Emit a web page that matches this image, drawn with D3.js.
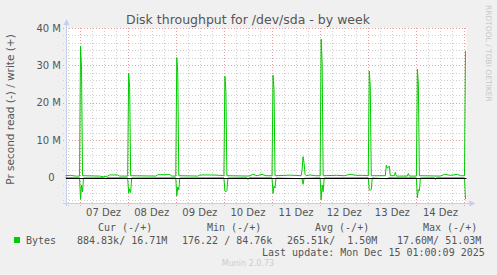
<!DOCTYPE html>
<html>
<head>
<meta charset="utf-8">
<script src="https://cdn.jsdelivr.net/npm/d3@7"></script>
<style>
body { margin: 0; background: #f0f0f0; }
svg { display: block; }
</style>
</head>
<body>
<svg id="chart"></svg>
<script>
// values in MB/s, times are UTC
const startTime = '12-06 17:00';
const endTime = '12-15 01:00';

const writePoints = [
  ['12-06 17:00', 0.5], ['12-06 19:30', 0.6], ['12-06 22:00', 0.4], ['12-07 00:00', 0.4],
  ['12-07 00:30', 35.2], ['12-07 01:00', 29.0], ['12-07 01:30', 0.5],
  ['12-07 10:00', 0.4], ['12-07 12:00', 0.2], ['12-07 14:00', 0.4], ['12-07 15:00', 0.7], ['12-07 19:00', 0.7], ['12-07 20:00', 0.4],
  ['12-08 00:00', 0.4], ['12-08 00:30', 27.9], ['12-08 01:00', 24.0], ['12-08 01:30', 0.5],
  ['12-08 14:00', 0.4], ['12-08 15:00', 0.75], ['12-08 21:00', 0.8], ['12-08 22:00', 0.4],
  ['12-09 00:00', 0.4], ['12-09 00:30', 32.1], ['12-09 01:00', 28.0], ['12-09 01:30', 0.5],
  ['12-09 11:00', 0.4], ['12-09 12:00', 0.7], ['12-09 18:00', 0.7], ['12-09 22:00', 0.6],
  ['12-10 00:00', 0.5], ['12-10 00:30', 27.1], ['12-10 01:00', 23.0], ['12-10 01:30', 0.5],
  ['12-10 12:30', 0.4], ['12-10 14:30', 0.85], ['12-10 16:30', 0.5], ['12-10 19:00', 0.85], ['12-10 21:00', 0.5],
  ['12-11 00:00', 0.5], ['12-11 00:30', 27.4], ['12-11 01:00', 23.5], ['12-11 01:30', 0.5],
  ['12-11 09:00', 0.65], ['12-11 14:30', 0.5], ['12-11 15:00', 2.0], ['12-11 15:30', 5.6], ['12-11 16:00', 3.8], ['12-11 16:30', 0.8],
  ['12-11 17:00', 0.5], ['12-11 19:00', 0.7], ['12-11 21:30', 0.5],
  ['12-12 00:00', 0.5], ['12-12 00:30', 37.0], ['12-12 01:00', 31.0], ['12-12 01:30', 0.5],
  ['12-12 08:00', 0.6], ['12-12 12:00', 0.5], ['12-12 15:00', 0.85], ['12-12 18:00', 0.6], ['12-12 21:00', 0.6],
  ['12-13 00:00', 0.5], ['12-13 00:30', 28.5], ['12-13 01:00', 24.5], ['12-13 01:30', 0.5],
  ['12-13 08:30', 0.5], ['12-13 09:00', 3.3], ['12-13 09:30', 2.5], ['12-13 10:30', 3.1], ['12-13 11:00', 0.5],
  ['12-13 13:00', 0.5], ['12-13 13:30', 1.4], ['12-13 14:00', 0.4], ['12-13 19:30', 0.4], ['12-13 20:00', 1.1], ['12-13 20:30', 0.4],
  ['12-14 00:00', 0.4], ['12-14 00:30', 29.0], ['12-14 01:00', 25.0], ['12-14 01:30', 0.5],
  ['12-14 12:00', 0.4], ['12-14 14:00', 0.85], ['12-14 17:00', 0.6], ['12-14 20:30', 0.85], ['12-14 22:00', 0.5],
  ['12-15 00:00', 0.5], ['12-15 00:30', 33.8]
];

const readPoints = [
  ['12-06 17:00', -0.05], ['12-07 00:00', -0.05],
  ['12-07 00:30', -5.8], ['12-07 01:00', -2.0], ['12-07 01:30', -3.8], ['12-07 02:00', -0.1],
  ['12-07 12:30', -0.05], ['12-07 13:00', -0.4], ['12-07 13:30', -0.05],
  ['12-08 00:00', -0.05], ['12-08 00:30', -4.1], ['12-08 01:00', -3.0], ['12-08 01:30', -4.0], ['12-08 02:00', -0.1],
  ['12-09 00:00', -0.05], ['12-09 00:30', -4.9], ['12-09 01:00', -2.5], ['12-09 01:30', -3.3], ['12-09 02:00', -0.1],
  ['12-10 00:00', -0.05], ['12-10 00:30', -3.6], ['12-10 01:00', -3.8], ['12-10 01:30', -3.5], ['12-10 02:00', -0.1],
  ['12-10 11:30', -0.05], ['12-10 12:00', -0.5], ['12-10 12:30', -0.05],
  ['12-11 00:00', -0.05], ['12-11 00:30', -4.2], ['12-11 01:00', -2.3], ['12-11 01:30', -2.8], ['12-11 02:00', -0.1],
  ['12-11 15:00', -0.3], ['12-11 15:30', -1.8], ['12-11 16:00', -0.2],
  ['12-12 00:00', -0.05], ['12-12 00:30', -5.9], ['12-12 01:00', -2.0], ['12-12 01:30', -3.8], ['12-12 02:00', -0.1],
  ['12-13 00:00', -0.05], ['12-13 00:30', -3.3], ['12-13 01:00', -3.4], ['12-13 01:30', -3.2], ['12-13 02:00', -0.1],
  ['12-13 09:30', -0.3], ['12-13 10:00', -0.05],
  ['12-14 00:00', -0.05], ['12-14 00:30', -5.4], ['12-14 01:00', -3.2], ['12-14 01:30', -3.5], ['12-14 02:00', -0.1],
  ['12-14 09:00', -0.05], ['12-14 09:30', -0.5], ['12-14 10:00', -0.05],
  ['12-15 00:00', -0.05], ['12-15 00:30', -5.8]
];

const yTicks = [0, 10, 20, 30, 40];
const yTickLabels = ['0', '10 M', '20 M', '30 M', '40 M'];
const dayLabels = ['07 Dez', '08 Dez', '09 Dez', '10 Dez', '11 Dez', '12 Dez', '13 Dez', '14 Dez'];
const legendHeads = ['Cur (-/+)', 'Min (-/+)', 'Avg (-/+)', 'Max (-/+)'];
const legendVals = ['884.83k/ 16.71M', '176.22 / 84.76k', '265.51k/  1.50M', '17.60M/ 51.03M'];
const lastUpdate = 'Last update: Mon Dec 15 01:00:09 2025';

const width = 497, height = 275;
const parseT = d3.utcParse('%Y-%m-%d %H:%M');
const T = s => parseT('2025-' + s);

const svg = d3.select('#chart')
.attr('width', width)
.attr('height', height)
.style('font-family', "'DejaVu Sans', sans-serif");

const x = d3.scaleUtc()
.domain([T(startTime), T(endTime)])
.range([65.5, 466.5]);

const y = d3.scaleLinear()
.domain([-6.8, 40])
.range([203, 28]);

const pLeft = 66, pRight = 466.5, pTop = 28, pBottom = 203;

// plot background
svg.append('rect')
.attr('x', pLeft).attr('y', pTop)
.attr('width', pRight - pLeft).attr('height', pBottom - pTop)
.attr('fill', '#ffffff');

// minor grid
const minorX = d3.utcHour.every(6).range(T(startTime), T(endTime)).filter(d => d.getUTCHours() !== 0);
const majorX = d3.utcDay.range(T(startTime), T(endTime));
const minorY = d3.range(-6, 41, 2).filter(v => v % 10 !== 0);

svg.append('g')
.selectAll('line')
.data(minorX)
.enter()
.append('line')
.attr('x1', d => Math.round(x(d)) + 0.5).attr('x2', d => Math.round(x(d)) + 0.5)
.attr('y1', pTop).attr('y2', pBottom + 3)
.attr('stroke', '#cfcfcf')
.attr('stroke-dasharray', '1,2');

svg.append('g')
.selectAll('line')
.data(minorY)
.enter()
.append('line')
.attr('x1', pLeft - 3).attr('x2', pRight)
.attr('y1', d => Math.round(y(d)) + 0.5).attr('y2', d => Math.round(y(d)) + 0.5)
.attr('stroke', '#cfcfcf')
.attr('stroke-dasharray', '1,2');

// major grid
svg.append('g')
.selectAll('line')
.data(majorX)
.enter()
.append('line')
.attr('x1', d => Math.round(x(d)) + 0.5).attr('x2', d => Math.round(x(d)) + 0.5)
.attr('y1', pTop).attr('y2', pBottom + 3)
.attr('stroke', '#e8a0a0')
.attr('stroke-dasharray', '1,2');

svg.append('g')
.selectAll('line')
.data(yTicks.filter(v => v !== 0))
.enter()
.append('line')
.attr('x1', pLeft - 3).attr('x2', pRight + 1)
.attr('y1', d => Math.round(y(d)) + 0.5).attr('y2', d => Math.round(y(d)) + 0.5)
.attr('stroke', '#e8a0a0')
.attr('stroke-dasharray', '1,2');

// axes
const axisCol = '#c8ccf0';
svg.append('line')
.attr('x1', pLeft + 0.5).attr('x2', pLeft + 0.5)
.attr('y1', pBottom + 3).attr('y2', pTop - 4)
.attr('stroke', axisCol);
svg.append('path')
.attr('d', `M${pLeft - 2.5},${pTop - 3} L${pLeft + 3.5},${pTop - 3} L${pLeft + 0.5},${pTop - 9} Z`)
.attr('fill', axisCol);
svg.append('line')
.attr('x1', pLeft - 3).attr('x2', pRight + 4)
.attr('y1', pBottom + 0.5).attr('y2', pBottom + 0.5)
.attr('stroke', axisCol);
svg.append('path')
.attr('d', `M${pRight + 3},${pBottom - 2.5} L${pRight + 3},${pBottom + 3.5} L${pRight + 9},${pBottom + 0.5} Z`)
.attr('fill', axisCol);

// data lines
const line = d3.line()
.x(d => x(T(d[0])))
.y(d => y(d[1]));

svg.append('path')
.datum(readPoints)
.attr('d', line)
.attr('fill', 'none')
.attr('stroke', '#00cc00')
.attr('stroke-width', 1);

svg.append('path')
.datum(writePoints)
.attr('d', line)
.attr('fill', 'none')
.attr('stroke', '#00cc00')
.attr('stroke-width', 1);

// zero line
svg.append('line')
.attr('x1', pLeft).attr('x2', pRight)
.attr('y1', Math.round(y(0)) + 0.5).attr('y2', Math.round(y(0)) + 0.5)
.attr('stroke', '#000000');

// y tick labels
svg.append('g')
.selectAll('text')
.data(yTicks)
.enter()
.append('text')
.attr('x', (d, i) => i === 0 ? 54.5 : 61)
.attr('y', d => y(d))
.attr('dy', '0.35em')
.attr('text-anchor', 'end')
.style('font-size', '10px')
.style('fill', '#555')
.text((d, i) => yTickLabels[i]);

// x day labels, centred at noon
svg.append('g')
.selectAll('text')
.data(dayLabels)
.enter()
.append('text')
.attr('x', (d, i) => x(d3.utcHour.offset(majorX[i], 12)))
.attr('y', 216)
.attr('text-anchor', 'middle')
.style('font-size', '10px')
.style('fill', '#555')
.text(d => d);

// title
svg.append('text')
.attr('x', 248)
.attr('y', 24)
.attr('text-anchor', 'middle')
.style('font-size', '12.5px')
.style('fill', '#555')
.text('Disk throughput for /dev/sda - by week');

svg.append('text')
.attr('transform', 'translate(14,109.5) rotate(-90)')
.attr('text-anchor', 'middle')
.style('font-size', '10.5px')
.style('fill', '#555')
.text('Pr second read (-) / write (+)');

svg.append('text')
.attr('transform', 'translate(486,5) rotate(90)')
.attr('text-anchor', 'start')
.style('font-size', '7.5px')
.style('fill', '#c8c8c8')
.text('RRDTOOL / TOBI OETIKER');

// legend
const mono = "'DejaVu Sans Mono', monospace";
const headX = [98, 207, 315, 423];
const valX = [77, 182, 287, 397];

svg.append('rect')
.attr('x', 14).attr('y', 237)
.attr('width', 6).attr('height', 6)
.attr('fill', '#00cc00');

svg.append('text')
.attr('x', 26).attr('y', 244)
.style('font-family', mono).style('font-size', '10px').style('fill', '#555')
.text('Bytes');

legendHeads.forEach((h, i) => {
  svg.append('text')
  .attr('x', headX[i]).attr('y', 231)
  .style('font-family', mono).style('font-size', '10px').style('fill', '#555')
  .style('white-space', 'pre')
  .text(h);
  svg.append('text')
  .attr('x', valX[i]).attr('y', 244)
  .style('font-family', mono).style('font-size', '10px').style('fill', '#555')
  .style('white-space', 'pre')
  .text(legendVals[i]);
});

svg.append('text')
.attr('x', 262).attr('y', 256)
.style('font-family', mono).style('font-size', '10px').style('fill', '#555')
.text(lastUpdate);

svg.append('text')
.attr('x', 248).attr('y', 266)
.attr('text-anchor', 'middle')
.style('font-size', '8px')
.style('fill', '#cccccc')
.text('Munin 2.0.73');
</script>
</body>
</html>
